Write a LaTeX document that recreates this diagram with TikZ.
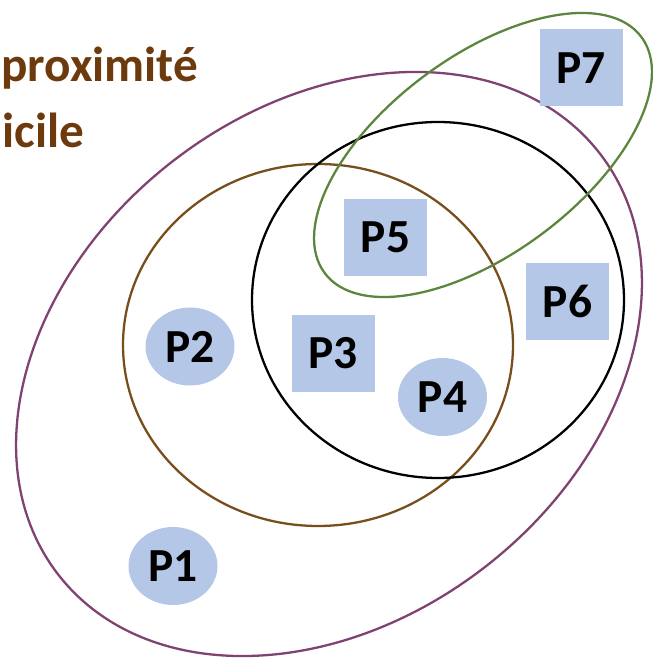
\documentclass[tikz,border=0pt]{standalone}
\usepackage{fontspec}
\setmainfont{Carlito}
\usetikzlibrary{shapes.geometric}
\definecolor{zonepurple}{RGB}{128,66,112}
\definecolor{zonebrown}{RGB}{120,78,28}
\definecolor{zonegreen}{RGB}{92,134,62}
\definecolor{titlebrown}{RGB}{108,58,12}
\definecolor{pblue}{RGB}{180,199,231}

\begin{document}
\begin{tikzpicture}[
  zone/.style={line width=1.3pt},
  pbox/.style={fill=pblue,minimum width=1.66cm,minimum height=1.54cm,inner sep=0pt,font=\bfseries\fontsize{27}{30}\selectfont},
  pdisc/.style={pbox,ellipse,minimum width=1.78cm,minimum height=1.56cm},
  title/.style={font=\bfseries\fontsize{28}{32}\selectfont,text=titlebrown,anchor=base west,inner sep=0pt},
]
\useasboundingbox (0,0) rectangle (13.04,13.16);
% title, cut at the left edge
\node[title] (t1) at (0.02,11.52) {proximité};
\node[title] (t2) at (0.04,10.20) {icile};
% zones
\draw[zone,draw=zonepurple,rotate around={38:(6.58,5.88)}] (6.58,5.88) ellipse [x radius=6.86,y radius=5.12];
\draw[zone,draw=zonebrown] (6.36,6.26) ellipse [x radius=3.90,y radius=3.62];
\draw[zone,draw=black] (8.76,7.16) ellipse [x radius=3.72,y radius=3.56];
\draw[zone,draw=zonegreen,rotate around={36.7:(9.66,10.06)}] (9.66,10.06) ellipse [x radius=3.95,y radius=1.97];
% persons
\node[pdisc] (p1) at (3.46,1.84) {P1};
\node[pdisc] (p2) at (3.80,6.23) {P2};
\node[pbox]  (p3) at (6.66,6.09) {P3};
\node[pdisc] (p4) at (8.85,5.22) {P4};
\node[pbox]  (p5) at (7.71,8.41) {P5};
\node[pbox]  (p6) at (11.35,7.13) {P6};
\node[pbox]  (p7) at (11.62,11.80) {P7};
\end{tikzpicture}
\end{document}
